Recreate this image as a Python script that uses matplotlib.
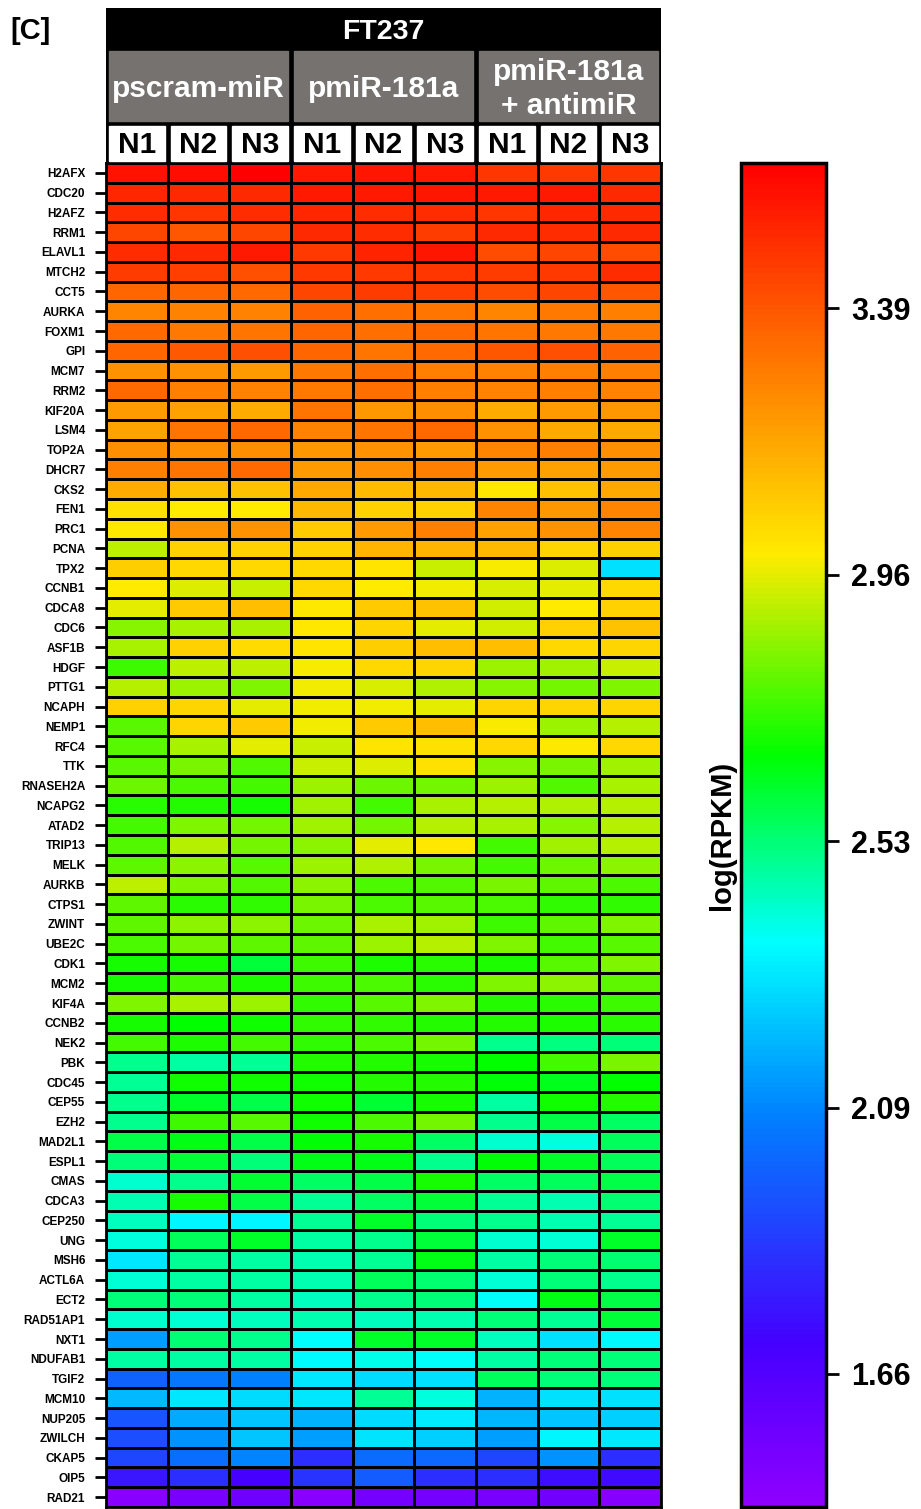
import matplotlib
matplotlib.use('Agg')
import matplotlib.pyplot as plt
from matplotlib.colors import LinearSegmentedColormap
from matplotlib.patches import Rectangle
import numpy as np

plt.rcParams['font.family'] = ['Liberation Sans', 'DejaVu Sans']
plt.rcParams['font.weight'] = 'bold'

genes = ['H2AFX', 'CDC20', 'H2AFZ', 'RRM1', 'ELAVL1', 'MTCH2', 'CCT5', 'AURKA', 'FOXM1', 'GPI',
         'MCM7', 'RRM2', 'KIF20A', 'LSM4', 'TOP2A', 'DHCR7', 'CKS2', 'FEN1', 'PRC1', 'PCNA',
         'TPX2', 'CCNB1', 'CDCA8', 'CDC6', 'ASF1B', 'HDGF', 'PTTG1', 'NCAPH', 'NEMP1', 'RFC4',
         'TTK', 'RNASEH2A', 'NCAPG2', 'ATAD2', 'TRIP13', 'MELK', 'AURKB', 'CTPS1', 'ZWINT', 'UBE2C',
         'CDK1', 'MCM2', 'KIF4A', 'CCNB2', 'NEK2', 'PBK', 'CDC45', 'CEP55', 'EZH2', 'MAD2L1',
         'ESPL1', 'CMAS', 'CDCA3', 'CEP250', 'UNG', 'MSH6', 'ACTL6A', 'ECT2', 'RAD51AP1', 'NXT1',
         'NDUFAB1', 'TGIF2', 'MCM10', 'NUP205', 'ZWILCH', 'CKAP5', 'OIP5', 'RAD21']
groups = ['pscram-miR', 'pmiR-181a', 'pmiR-181a\n+ antimiR']
samples = ['N1', 'N2', 'N3'] * 3
title = 'FT237'

# log(RPKM), columns: pscram N1-N3, pmiR-181a N1-N3, pmiR-181a+antimiR N1-N3
log_rpkm = [
    [3.57, 3.59, 3.62, 3.55, 3.56, 3.55, 3.48, 3.47, 3.48],
    [3.52, 3.51, 3.51, 3.55, 3.55, 3.56, 3.55, 3.55, 3.51],
    [3.50, 3.48, 3.50, 3.52, 3.50, 3.50, 3.48, 3.52, 3.51],
    [3.43, 3.39, 3.43, 3.51, 3.50, 3.46, 3.51, 3.50, 3.51],
    [3.50, 3.51, 3.55, 3.47, 3.53, 3.56, 3.42, 3.43, 3.42],
    [3.46, 3.45, 3.41, 3.47, 3.47, 3.48, 3.46, 3.47, 3.50],
    [3.35, 3.35, 3.34, 3.43, 3.46, 3.45, 3.42, 3.43, 3.39],
    [3.26, 3.27, 3.27, 3.36, 3.32, 3.31, 3.26, 3.30, 3.28],
    [3.34, 3.30, 3.31, 3.35, 3.32, 3.34, 3.31, 3.30, 3.30],
    [3.35, 3.38, 3.41, 3.35, 3.31, 3.34, 3.39, 3.41, 3.36],
    [3.23, 3.23, 3.20, 3.30, 3.32, 3.28, 3.27, 3.28, 3.28],
    [3.34, 3.28, 3.27, 3.30, 3.32, 3.28, 3.27, 3.28, 3.27],
    [3.20, 3.19, 3.16, 3.31, 3.21, 3.24, 3.16, 3.20, 3.21],
    [3.19, 3.31, 3.34, 3.27, 3.31, 3.34, 3.23, 3.17, 3.17],
    [3.24, 3.24, 3.24, 3.21, 3.23, 3.20, 3.26, 3.28, 3.24],
    [3.28, 3.31, 3.34, 3.20, 3.24, 3.28, 3.20, 3.19, 3.20],
    [3.16, 3.10, 3.10, 3.17, 3.12, 3.13, 3.00, 3.10, 3.17],
    [3.02, 2.99, 2.99, 3.13, 3.06, 3.06, 3.26, 3.21, 3.26],
    [3.00, 3.23, 3.23, 3.08, 3.20, 3.28, 3.19, 3.23, 3.26],
    [2.91, 3.06, 3.06, 3.06, 3.14, 3.14, 3.13, 3.05, 3.06],
    [3.07, 3.04, 3.04, 3.04, 3.01, 2.92, 2.98, 2.95, 2.29],
    [2.99, 2.95, 2.92, 3.04, 2.99, 2.97, 2.94, 2.96, 3.04],
    [2.96, 3.08, 3.11, 3.00, 3.08, 3.10, 2.93, 2.99, 3.06],
    [2.84, 2.88, 2.88, 3.00, 3.05, 2.96, 2.93, 3.06, 3.10],
    [2.88, 3.06, 3.03, 3.01, 3.07, 3.11, 3.11, 3.04, 3.05],
    [2.74, 2.91, 2.91, 2.98, 3.04, 3.05, 2.86, 2.87, 2.92],
    [2.90, 2.86, 2.83, 2.97, 2.94, 2.89, 2.84, 2.81, 2.83],
    [3.06, 3.05, 2.96, 2.97, 2.97, 2.96, 3.05, 3.05, 3.05],
    [2.78, 3.05, 3.08, 2.97, 3.08, 3.11, 2.98, 2.86, 2.90],
    [2.78, 2.88, 2.96, 2.92, 3.01, 3.02, 3.04, 3.00, 3.04],
    [2.78, 2.82, 2.77, 2.92, 2.95, 3.02, 2.84, 2.82, 2.87],
    [2.80, 2.76, 2.75, 2.86, 2.80, 2.81, 2.86, 2.77, 2.88],
    [2.72, 2.71, 2.69, 2.87, 2.75, 2.88, 2.90, 2.89, 2.90],
    [2.75, 2.83, 2.81, 2.87, 2.81, 2.90, 2.88, 2.84, 2.90],
    [2.77, 2.90, 2.81, 2.85, 2.96, 3.00, 2.75, 2.87, 2.90],
    [2.79, 2.85, 2.78, 2.86, 2.89, 2.82, 2.75, 2.80, 2.85],
    [2.91, 2.83, 2.77, 2.85, 2.76, 2.77, 2.82, 2.79, 2.76],
    [2.79, 2.72, 2.73, 2.82, 2.76, 2.78, 2.76, 2.73, 2.73],
    [2.79, 2.85, 2.85, 2.80, 2.88, 2.87, 2.74, 2.79, 2.83],
    [2.76, 2.81, 2.79, 2.79, 2.86, 2.90, 2.83, 2.75, 2.78],
    [2.69, 2.69, 2.60, 2.74, 2.70, 2.72, 2.70, 2.78, 2.83],
    [2.69, 2.75, 2.70, 2.74, 2.76, 2.72, 2.83, 2.85, 2.79],
    [2.83, 2.88, 2.86, 2.73, 2.78, 2.83, 2.71, 2.72, 2.74],
    [2.69, 2.67, 2.68, 2.73, 2.73, 2.71, 2.71, 2.70, 2.72],
    [2.75, 2.70, 2.75, 2.73, 2.76, 2.81, 2.50, 2.51, 2.52],
    [2.50, 2.47, 2.49, 2.71, 2.71, 2.69, 2.67, 2.75, 2.82],
    [2.49, 2.68, 2.68, 2.68, 2.71, 2.71, 2.66, 2.63, 2.67],
    [2.50, 2.62, 2.58, 2.68, 2.61, 2.69, 2.47, 2.68, 2.71],
    [2.50, 2.74, 2.78, 2.68, 2.76, 2.81, 2.50, 2.58, 2.55],
    [2.58, 2.64, 2.58, 2.66, 2.69, 2.55, 2.42, 2.40, 2.56],
    [2.52, 2.60, 2.52, 2.64, 2.64, 2.50, 2.66, 2.62, 2.56],
    [2.42, 2.50, 2.61, 2.55, 2.58, 2.69, 2.55, 2.56, 2.58],
    [2.45, 2.69, 2.58, 2.49, 2.55, 2.60, 2.49, 2.45, 2.53],
    [2.44, 2.34, 2.34, 2.49, 2.62, 2.52, 2.50, 2.45, 2.49],
    [2.40, 2.56, 2.62, 2.47, 2.50, 2.60, 2.42, 2.41, 2.62],
    [2.31, 2.49, 2.47, 2.45, 2.49, 2.64, 2.47, 2.52, 2.53],
    [2.41, 2.47, 2.47, 2.45, 2.56, 2.53, 2.41, 2.52, 2.50],
    [2.52, 2.52, 2.47, 2.44, 2.50, 2.52, 2.37, 2.64, 2.58],
    [2.42, 2.41, 2.44, 2.45, 2.44, 2.45, 2.52, 2.49, 2.60],
    [2.15, 2.53, 2.50, 2.36, 2.62, 2.62, 2.44, 2.29, 2.35],
    [2.47, 2.47, 2.47, 2.35, 2.39, 2.37, 2.47, 2.52, 2.52],
    [1.99, 2.05, 2.08, 2.31, 2.28, 2.29, 2.56, 2.52, 2.52],
    [2.21, 2.31, 2.28, 2.31, 2.49, 2.40, 2.19, 2.29, 2.29],
    [1.95, 2.17, 2.23, 2.19, 2.28, 2.32, 2.20, 2.23, 2.26],
    [1.93, 2.12, 2.23, 2.15, 2.30, 2.26, 2.15, 2.34, 2.31],
    [1.91, 2.03, 2.09, 1.84, 2.02, 2.01, 1.91, 2.12, 1.84],
    [1.77, 1.84, 1.70, 1.86, 1.98, 1.84, 1.84, 1.75, 1.74],
    [1.47, 1.53, 1.57, 1.47, 1.54, 1.54, 1.53, 1.55, 1.48],
]
cbar_ticks = [1.66, 2.0925, 2.525, 2.9575, 3.39]
vmin, vmax = 1.444, 3.626

cmap = LinearSegmentedColormap.from_list('rb', [
    (0.00, (0.56, 0.0, 1.0)),
    (0.12, (0.27, 0.0, 1.0)),
    (0.29, (0.0, 0.5, 1.0)),
    (0.42, (0.0, 1.0, 1.0)),
    (0.56, (0.0, 1.0, 0.0)),
    (0.71, (1.0, 0.92, 0.0)),
    (1.00, (1.0, 0.0, 0.0)),
])

W, H = 921, 1509
fig = plt.figure(figsize=(W / 100, H / 100), dpi=100)

def fbox(x0, y0, x1, y1):
    return [x0 / W, 1 - y1 / H, (x1 - x0) / W, (y1 - y0) / H]

# heatmap
ax = fig.add_axes(fbox(106, 163, 661, 1507))
data = np.array(log_rpkm)
ax.pcolormesh(data, cmap=cmap, vmin=vmin, vmax=vmax, edgecolors='black', linewidth=1.8)
ax.set_xlim(0, 9)
ax.set_ylim(len(genes), 0)
ax.set_xticks([])
ax.set_yticks(np.arange(len(genes)) + 0.5)
ax.set_yticklabels(genes, fontsize=8.5, fontweight='bold')
ax.tick_params(axis='y', length=8, width=2, pad=7)
for s in ax.spines.values():
    s.set_linewidth(2)

# header
hx = fig.add_axes(fbox(106, 8, 661, 163))
hx.set_xlim(0, 9)
hx.set_ylim(155, 0)
hx.axis('off')
hx.add_patch(Rectangle((0, 0), 9, 155, color='black'))
hx.text(4.5, 24, title, color='white', fontsize=20.5, fontweight='bold', ha='center', va='center')
for g, name in enumerate(groups):
    hx.add_patch(Rectangle((3 * g + 0.05, 43), 2.9, 70, color='#767270'))
    hx.text(3 * g + 1.5, 81, name, color='white', fontsize=21.5, fontweight='bold',
            ha='center', va='center', linespacing=1.25)
for c, s in enumerate(samples):
    hx.add_patch(Rectangle((c + 0.05, 118), 0.9, 35, color='white'))
    hx.text(c + 0.5, 137, s, color='black', fontsize=21.5, fontweight='bold', ha='center', va='center')

# colorbar
cax = fig.add_axes(fbox(741, 163, 826, 1507))
sm = plt.cm.ScalarMappable(cmap=cmap, norm=plt.Normalize(vmin, vmax))
cb = fig.colorbar(sm, cax=cax)
cb.set_ticks(cbar_ticks)
cb.set_ticklabels(['%.2f' % (t + 1e-4) for t in cbar_ticks])
cb.outline.set_linewidth(2.5)
cax.tick_params(length=9, width=2, pad=9, labelsize=22)
for t in cax.get_yticklabels():
    t.set_fontweight('bold')

fig.text(722 / W, 1 - 835 / H, 'log(RPKM)', rotation=90, fontsize=21, fontweight='bold',
         ha='center', va='center')
fig.text(10 / W, 1 - 31 / H, '[C]', fontsize=21, fontweight='bold', ha='left', va='center')

fig.savefig('out.png', dpi=100)
